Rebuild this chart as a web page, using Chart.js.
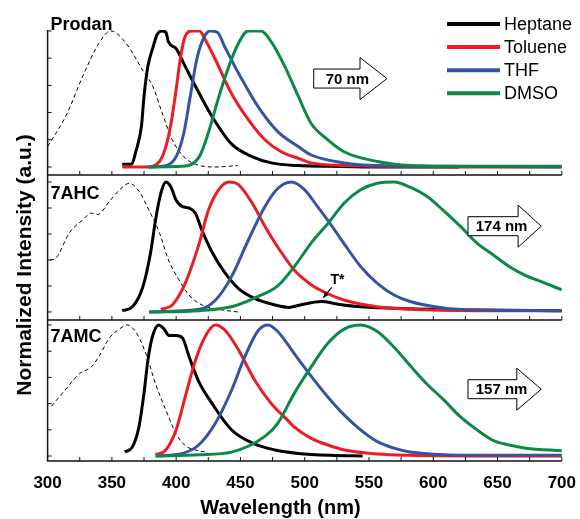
<!DOCTYPE html>
<html>
<head>
<meta charset="utf-8">
<script src="https://cdn.jsdelivr.net/npm/chart.js@4.4.0/dist/chart.umd.min.js"></script>
<style>
  body { margin: 0; background: #fff; }
  #wrap { width: 580px; height: 519px; }
</style>
</head>
<body>
<div id="wrap"><canvas id="chart" width="580" height="519"></canvas></div>
<script>
// Axis
const xTicks = [300, 350, 400, 450, 500, 550, 600, 650, 700];
const yTicks = [0, 0.2, 0.4, 0.6, 0.8, 1.0];

// Legend / panels
const solvents = ['Heptane', 'Toluene', 'THF', 'DMSO'];
const solventColors = ['#000000', '#ec1c24', '#3953a4', '#0b8a45'];
const panels = ['Prodan', '7AHC', '7AMC'];
const shifts = ['70 nm', '174 nm', '157 nm'];

// Prodan
const prodanAbsNm = [300, 315, 327, 340, 349, 361, 374, 382, 389, 397, 406, 415, 430, 448];
const prodanAbs = [0.15, 0.39, 0.66, 0.91, 1.0, 0.91, 0.71, 0.59, 0.40, 0.20, 0.075, 0.02, 0.0, 0.01];
const prodanHepNm = [358, 365, 369, 373, 375, 378, 382, 385, 388.5, 392, 394, 400, 407, 418, 428, 443, 459, 474, 495, 520, 560, 620];
const prodanHep = [0.02, 0.02, 0.125, 0.30, 0.52, 0.74, 0.88, 0.97, 1.0, 0.99, 0.92, 0.87, 0.74, 0.54, 0.37, 0.17, 0.076, 0.03, 0.01, 0.005, 0.0, 0.0];
const prodanTolNm = [358, 377, 387, 392, 396, 400, 403.5, 407, 412.5, 418, 423, 430.5, 443, 456, 469, 482, 495, 505, 531, 560, 620, 700];
const prodanTol = [0, 0, 0.04, 0.15, 0.32, 0.57, 0.81, 0.96, 1.0, 1.0, 0.93, 0.79, 0.54, 0.35, 0.2, 0.11, 0.064, 0.03, 0.01, 0.005, 0, 0];
const prodanThfNm = [378, 392, 400, 406, 411, 416, 421.5, 426.5, 432, 438, 448.5, 464, 479, 495, 505, 531, 557, 600, 700];
const prodanThf = [0, 0.01, 0.076, 0.25, 0.52, 0.79, 0.95, 1.0, 0.99, 0.88, 0.69, 0.44, 0.26, 0.15, 0.088, 0.03, 0.01, 0.005, 0.0];
const prodanDmsoNm = [378, 405, 418, 425, 433, 441, 448.5, 456, 466, 474, 484.5, 495, 505, 518, 531, 556.5, 582, 609, 650, 700];
const prodanDmso = [0, 0.005, 0.076, 0.25, 0.51, 0.74, 0.91, 1.0, 1.0, 0.92, 0.74, 0.52, 0.32, 0.2, 0.11, 0.04, 0.01, 0.005, 0.005, 0.005];

// 7AHC
const ahcAbsNm = [302, 306, 317, 327.5, 334, 339, 348, 356, 363.5, 371, 379, 387, 394, 402, 410, 420, 433, 448];
const ahcAbs = [0.40, 0.41, 0.61, 0.71, 0.76, 0.75, 0.85, 0.94, 0.99, 0.93, 0.78, 0.61, 0.40, 0.25, 0.13, 0.054, 0.02, 0.0];
const ahcHepNm = [358, 366, 374, 380, 384, 388, 392, 396, 400, 405, 410, 415, 420, 428, 438, 448.5, 461, 477, 488, 495, 513, 526, 544, 582, 634, 700];
const ahcHep = [0.01, 0.04, 0.19, 0.45, 0.71, 0.91, 1.0, 0.96, 0.86, 0.81, 0.80, 0.76, 0.63, 0.46, 0.30, 0.18, 0.105, 0.054, 0.035, 0.05, 0.08, 0.06, 0.04, 0.025, 0.015, 0.01];
const ahcTolNm = [388, 397, 407, 418, 425, 433, 441, 448.5, 459, 469, 479, 492, 505, 518, 531, 556.5, 582, 634, 700];
const ahcTol = [0.02, 0.054, 0.22, 0.53, 0.78, 0.94, 1.0, 0.98, 0.84, 0.66, 0.50, 0.32, 0.21, 0.14, 0.09, 0.04, 0.02, 0.01, 0.01];
const ahcThfNm = [379, 418, 430.5, 443, 456, 469, 479, 489.5, 500, 510, 520.5, 531, 543.5, 556.5, 569.5, 582, 608, 634, 700];
const ahcThf = [0, 0.02, 0.09, 0.27, 0.55, 0.81, 0.95, 1.0, 0.94, 0.81, 0.67, 0.52, 0.35, 0.22, 0.13, 0.08, 0.03, 0.015, 0.01];
const ahcDmsoNm = [379, 418, 443, 464, 479, 492, 505, 518, 531, 543.5, 556.5, 569.5, 582, 595, 608, 621, 634, 646.5, 659, 672, 685, 700];
const ahcDmso = [0, 0.01, 0.04, 0.12, 0.20, 0.35, 0.53, 0.68, 0.84, 0.94, 0.99, 1.0, 0.96, 0.89, 0.78, 0.66, 0.53, 0.44, 0.35, 0.28, 0.23, 0.17];

// 7AMC
const amcAbsNm = [303, 315, 325, 334, 340, 348, 356, 362, 369, 376.5, 384, 392, 400, 407, 415, 423];
const amcAbs = [0.38, 0.52, 0.63, 0.68, 0.76, 0.90, 0.97, 1.0, 0.94, 0.78, 0.55, 0.35, 0.17, 0.08, 0.046, 0.03];
const amcHepNm = [360, 366, 371, 375, 378, 381.5, 386.5, 390.5, 394.5, 400, 405, 410, 417.5, 428, 443, 459, 477, 495, 520, 545];
const amcHep = [0.03, 0.07, 0.22, 0.48, 0.73, 0.91, 1.0, 0.97, 0.92, 0.92, 0.90, 0.76, 0.57, 0.40, 0.20, 0.10, 0.046, 0.02, 0.005, 0.0];
const amcTolNm = [384, 392, 400, 407, 415, 423, 430.5, 438, 448.5, 461, 474, 487, 492, 505, 518, 531, 556.5, 582, 640, 700];
const amcTol = [0.01, 0.046, 0.2, 0.45, 0.73, 0.92, 1.0, 0.96, 0.81, 0.58, 0.40, 0.27, 0.22, 0.135, 0.084, 0.046, 0.015, 0.005, 0, 0];
const amcThfNm = [384, 405, 417.5, 430.5, 443, 453.5, 464, 471.5, 479, 492, 505, 518, 531, 543.5, 556.5, 569.5, 582, 608, 650, 700];
const amcThf = [0, 0.02, 0.084, 0.25, 0.50, 0.76, 0.96, 1.0, 0.95, 0.78, 0.61, 0.45, 0.31, 0.20, 0.11, 0.06, 0.03, 0.01, 0.005, 0.005];
const amcDmsoNm = [384, 418, 443, 469, 479, 492, 505, 518, 531, 543.5, 556.5, 569.5, 582, 595, 608, 621, 634, 646.5, 659, 672, 700];
const amcDmso = [0, 0.01, 0.03, 0.15, 0.25, 0.48, 0.68, 0.86, 0.97, 1.0, 0.95, 0.83, 0.69, 0.55, 0.43, 0.30, 0.20, 0.12, 0.084, 0.06, 0.04];

// Annotations (nm / normalized units of each panel)
const shiftArrows = [
    { panel: 0, from: 507, head: 543, to: 564, y: 0.65 },
    { panel: 1, from: 627, head: 666, to: 684, y: 0.66 },
    { panel: 2, from: 627, head: 665, to: 684, y: 0.51 }
];
const labelY = [1.01, 0.87, 0.87];
const tStar = { text: 'T*', x: 520, y: 0.215, tailX: 521, tailY: 0.19, tipX: 514.5, tipY: 0.11 };

// Panel axes, top to bottom
const axisIds = ['y1', 'y2', 'y3'];
const axisRange = [[-0.059, 1.007], [-0.062, 1.054], [-0.038, 1.038]];
const axisWeight = [145, 145, 141];

const pts = (nm, v) => nm.map((x, i) => ({ x, y: v[i] }));

const absorption = [[prodanAbsNm, prodanAbs], [ahcAbsNm, ahcAbs], [amcAbsNm, amcAbs]];
const emission = [
    [[prodanHepNm, prodanHep], [prodanTolNm, prodanTol], [prodanThfNm, prodanThf], [prodanDmsoNm, prodanDmso]],
    [[ahcHepNm, ahcHep], [ahcTolNm, ahcTol], [ahcThfNm, ahcThf], [ahcDmsoNm, ahcDmso]],
    [[amcHepNm, amcHep], [amcTolNm, amcTol], [amcThfNm, amcThf], [amcDmsoNm, amcDmso]]
];

const datasets = [];
panels.forEach((p, i) => {
    datasets.push({
        label: p + ' abs',
        data: pts(...absorption[i]),
        yAxisID: axisIds[i],
        borderColor: '#000',
        borderWidth: 1,
        borderDash: [4, 3],
        order: 10
    });
    emission[i].forEach((c, j) => {
        datasets.push({
            label: p + ' ' + solvents[j],
            data: pts(...c),
            yAxisID: axisIds[i],
            borderColor: solventColors[j],
            borderWidth: 3,
            order: 4 - j
        });
    });
});

const scales = {
    x: {
        type: 'linear',
        min: 300,
        max: 700,
        afterBuildTicks: s => { s.ticks = xTicks.map(v => ({ value: v })); },
        afterFit: s => { s.height = 58; },
        grid: { display: false },
        border: { display: false },
        ticks: { color: '#000', font: { size: 17, weight: 'bold' }, padding: 4 }
    }
};
axisIds.forEach((id, i) => {
    scales[id] = {
        type: 'linear',
        position: 'left',
        stack: 'panels',
        stackWeight: axisWeight[i],
        weight: 3 - i,
        min: axisRange[i][0],
        max: axisRange[i][1],
        afterBuildTicks: s => { s.ticks = yTicks.map(v => ({ value: v })); },
        afterFit: s => { s.width = 47.6; },
        grid: { display: false },
        border: { display: false },
        ticks: { display: false }
    };
});

function line(ctx, x1, y1, x2, y2) {
    ctx.beginPath();
    ctx.moveTo(x1, y1);
    ctx.lineTo(x2, y2);
    ctx.stroke();
}

const deco = {
    id: 'deco',
    afterDatasetsDraw(chart) {
        const { ctx, chartArea: ca } = chart;
        const xs = chart.scales.x;
        ctx.save();

        // frame + inward ticks
        ctx.strokeStyle = '#111';
        ctx.lineWidth = 1.5;
        line(ctx, ca.left, ca.top, ca.left, ca.bottom);
        axisIds.forEach(id => {
            const s = chart.scales[id];
            line(ctx, ca.left - 0.7, s.bottom, ca.right, s.bottom);
            ctx.lineWidth = 1;
            for (let w = 325; w <= 700; w += 25) {
                const px = xs.getPixelForValue(w);
                line(ctx, px, s.bottom, px, s.bottom - 4);
            }
            s.ticks.forEach(t => {
                const py = s.getPixelForValue(t.value);
                line(ctx, ca.left, py, ca.left + 4, py);
            });
            ctx.lineWidth = 1.5;
        });

        // panel names
        ctx.fillStyle = '#000';
        ctx.font = 'bold 18px "Liberation Sans", Arial, sans-serif';
        ctx.textAlign = 'left';
        ctx.textBaseline = 'alphabetic';
        panels.forEach((p, i) => {
            ctx.fillText(p, ca.left + 3, chart.scales[axisIds[i]].getPixelForValue(labelY[i]));
        });

        // shift arrows
        shiftArrows.forEach((a, i) => {
            const s = chart.scales[axisIds[a.panel]];
            const x0 = xs.getPixelForValue(a.from);
            const xh = xs.getPixelForValue(a.head);
            const x1 = xs.getPixelForValue(a.to);
            const yc = s.getPixelForValue(a.y);
            ctx.beginPath();
            ctx.moveTo(x0, yc - 9.5);
            ctx.lineTo(xh, yc - 9.5);
            ctx.lineTo(xh, yc - 21);
            ctx.lineTo(x1, yc);
            ctx.lineTo(xh, yc + 21);
            ctx.lineTo(xh, yc + 9.5);
            ctx.lineTo(x0, yc + 9.5);
            ctx.closePath();
            ctx.fillStyle = '#fff';
            ctx.fill();
            ctx.lineWidth = 1;
            ctx.strokeStyle = '#000';
            ctx.stroke();
            ctx.fillStyle = '#000';
            ctx.font = 'bold 15px "Liberation Sans", Arial, sans-serif';
            ctx.textAlign = 'center';
            ctx.textBaseline = 'middle';
            ctx.fillText(shifts[i], (x0 + x1) / 2 - 3, yc + 1);
        });

        // T* marker
        const s2 = chart.scales.y2;
        ctx.textAlign = 'left';
        ctx.textBaseline = 'alphabetic';
        ctx.font = 'bold 14px "Liberation Sans", Arial, sans-serif';
        ctx.fillText(tStar.text, xs.getPixelForValue(tStar.x), s2.getPixelForValue(tStar.y));
        const tx = xs.getPixelForValue(tStar.tailX), ty = s2.getPixelForValue(tStar.tailY);
        const hx = xs.getPixelForValue(tStar.tipX), hy = s2.getPixelForValue(tStar.tipY);
        ctx.lineWidth = 1.2;
        line(ctx, tx, ty, hx, hy);
        const ang = Math.atan2(hy - ty, hx - tx);
        ctx.beginPath();
        ctx.moveTo(hx, hy);
        ctx.lineTo(hx - 6 * Math.cos(ang - 0.45), hy - 6 * Math.sin(ang - 0.45));
        ctx.lineTo(hx - 6 * Math.cos(ang + 0.45), hy - 6 * Math.sin(ang + 0.45));
        ctx.closePath();
        ctx.fill();

        // legend
        ctx.font = '18px "Liberation Sans", Arial, sans-serif';
        ctx.textBaseline = 'middle';
        solvents.forEach((n, i) => {
            const y = 24 + i * 23.1;
            ctx.strokeStyle = solventColors[i];
            ctx.lineWidth = 4;
            line(ctx, 447, y, 500, y);
            ctx.fillStyle = '#000';
            ctx.fillText(n, 504, y + 1);
        });

        // axis titles
        ctx.textAlign = 'center';
        ctx.font = 'bold 20px "Liberation Sans", Arial, sans-serif';
        ctx.fillText('Wavelength (nm)', 280.5, 508);
        ctx.translate(25, 265);
        ctx.rotate(-Math.PI / 2);
        ctx.font = 'bold 21px "Liberation Sans", Arial, sans-serif';
        ctx.fillText('Normalized Intensity (a.u.)', 0, 0);
        ctx.restore();
    }
};

Chart.defaults.font.family = '"Liberation Sans", Arial, sans-serif';

new Chart(document.getElementById('chart'), {
    type: 'line',
    data: { datasets },
    options: {
        responsive: false,
        animation: false,
        layout: { padding: { top: 30, right: 14, bottom: 0, left: 0 } },
        elements: {
            point: { radius: 0 },
            line: { cubicInterpolationMode: 'monotone', fill: false }
        },
        plugins: { legend: { display: false }, tooltip: { enabled: false } },
        scales
    },
    plugins: [deco]
});
</script>
</body>
</html>
